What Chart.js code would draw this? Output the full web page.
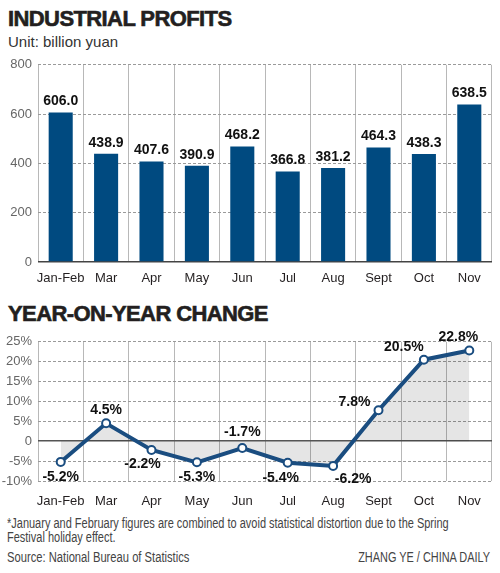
<!DOCTYPE html>
<html>
<head>
<meta charset="utf-8">
<script src="https://cdn.jsdelivr.net/npm/chart.js@4"></script>
<style>
  body { margin: 0; width: 500px; height: 573px; background: #fff; position: relative; overflow: hidden; font-family: "Liberation Sans", Arial, sans-serif; color: #231f20; }
  .titulo { position: absolute; left: 8px; font-weight: bold; font-size: 22px; letter-spacing: -0.6px; -webkit-text-stroke: 0.6px #231f20; }
  .texto { position: absolute; left: 7px; font-size: 14px; line-height: 14px; color: #444; white-space: nowrap; transform: scaleX(0.8); transform-origin: left top; }
  #boxBarras { position: absolute; left: 0; top: 51px; width: 500px; height: 239px; }
  #boxLinha { position: absolute; left: 0; top: 328px; width: 500px; height: 183px; }
</style>
</head>
<body>
<div class="titulo" style="top:6px">INDUSTRIAL PROFITS</div>
<div style="position:absolute; top:33px; left:8px; font-size:15px; color:#333;">Unit: billion yuan</div>
<div id="boxBarras"><canvas id="graficoBarras"></canvas></div>
<div class="titulo" style="top:301px">YEAR-ON-YEAR CHANGE</div>
<div id="boxLinha"><canvas id="graficoLinha"></canvas></div>
<div class="texto" style="top:516px; transform:scaleX(0.785);">*January and February figures are combined to avoid statistical distortion due to the Spring<br>Festival holiday effect.</div>
<div class="texto" style="top:550px;">Source: National Bureau of Statistics</div>
<div class="texto" style="top:550px; left:auto; right:10px; transform:scaleX(0.78); transform-origin:right top;">ZHANG YE / CHINA DAILY</div>

<script>
const meses = ["Jan-Feb", "Mar", "Apr", "May", "Jun", "Jul", "Aug", "Sept", "Oct", "Nov"];
const lucros = [606.0, 438.9, 407.6, 390.9, 468.2, 366.8, 381.2, 464.3, 438.3, 638.5];
const variacao = [-5.2, 4.5, -2.2, -5.3, -1.7, -5.4, -6.2, 7.8, 20.5, 22.8];
const ticksLucro = [0, 200, 400, 600, 800];
const ticksVariacao = [-10, -5, 0, 5, 10, 15, 20, 25];

// deslocamento dos rotulos da linha em relacao ao ponto
const offsetsRotulos = [[0, 15], [0, -13], [-9, 14], [0, 15], [0, -16], [-7, 15], [20, 13], [-24, -8], [-20, -13], [-11, -13]];

const fonteEixo = "'Liberation Sans', sans-serif";

function eixoX(altura, espaco) {
    return {
        offset: true,
        grid: { offset: true, color: "#b8b8b8", lineWidth: 1, drawTicks: false },
        border: { display: false },
        ticks: { color: "#231f20", padding: espaco, autoSkip: false, maxRotation: 0, minRotation: 0, font: { family: fonteEixo, size: 13 } },
        afterFit: function (scale) { scale.height = altura; }
    };
}

const rotulosBarras = {
    id: "rotulosBarras",
    afterDatasetsDraw(chart) {
        const ctx = chart.ctx;
        const meta = chart.getDatasetMeta(0);
        ctx.save();
        ctx.font = "bold 14px 'Liberation Sans', sans-serif";
        ctx.fillStyle = "#111";
        ctx.textAlign = "center";
        ctx.textBaseline = "middle";
        meta.data.forEach((bar, i) => {
            ctx.fillText(lucros[i].toFixed(1), bar.x, bar.y - 11);
        });
        ctx.restore();
    }
};

const rotulosLinha = {
    id: "rotulosLinha",
    afterDatasetsDraw(chart) {
        const ctx = chart.ctx;
        const meta = chart.getDatasetMeta(0);
        ctx.save();
        ctx.font = "bold 14px 'Liberation Sans', sans-serif";
        ctx.fillStyle = "#111";
        ctx.textAlign = "center";
        ctx.textBaseline = "middle";
        meta.data.forEach((p, i) => {
            ctx.fillText(variacao[i].toFixed(1) + "%", p.x + offsetsRotulos[i][0], p.y + offsetsRotulos[i][1]);
        });
        ctx.restore();
    }
};

function eixoY(min, max, valores, cor0, formato) {
    return {
        min: min,
        max: max,
        afterBuildTicks: function (scale) { scale.ticks = valores.map(v => ({ value: v })); },
        grid: {
            color: (c) => c.tick && c.tick.value === 0 ? cor0 : "#9a9a9a",
            lineWidth: (c) => c.tick && c.tick.value === 0 ? 1.5 : 1,
            drawTicks: false
        },
        border: { display: false, dash: (c) => c.tick && c.tick.value === 0 ? [] : [3, 2] },
        ticks: {
            color: "#666",
            padding: 6,
            autoSkip: false,
            font: { family: fonteEixo, size: 13 },
            callback: formato
        },
        afterFit: function (scale) { scale.width = 38; }
    };
}

new Chart(document.getElementById("graficoBarras"), {
    type: "bar",
    data: {
        labels: meses,
        datasets: [{
            data: lucros,
            backgroundColor: "#004a80",
            barPercentage: 0.53,
            categoryPercentage: 1
        }]
    },
    options: {
        responsive: true,
        maintainAspectRatio: false,
        animation: false,
        layout: { padding: { top: 0, right: 8, left: 0, bottom: 0 } },
        plugins: { legend: { display: false }, tooltip: { enabled: false } },
        scales: {
            x: eixoX(28, 9),
            y: eixoY(0, 800, ticksLucro, "#444", (v) => v)
        }
    },
    plugins: [rotulosBarras]
});

new Chart(document.getElementById("graficoLinha"), {
    type: "line",
    data: {
        labels: meses,
        datasets: [{
            data: variacao,
            borderColor: "#1a4d80",
            borderWidth: 4,
            backgroundColor: "rgba(0,0,0,0.1)",
            fill: "origin",
            tension: 0,
            pointRadius: 4,
            pointBorderWidth: 2,
            pointBackgroundColor: "#fff",
            pointBorderColor: "#1a4d80"
        }]
    },
    options: {
        responsive: true,
        maintainAspectRatio: false,
        animation: false,
        layout: { padding: { top: 1, right: 8, left: 0, bottom: 0 } },
        plugins: { legend: { display: false }, tooltip: { enabled: false } },
        scales: {
            x: eixoX(30, 13),
            y: eixoY(-10, 25, ticksVariacao, "#555", (v) => v === 0 ? "0" : v + "%")
        }
    },
    plugins: [rotulosLinha]
});
</script>
</body>
</html>
